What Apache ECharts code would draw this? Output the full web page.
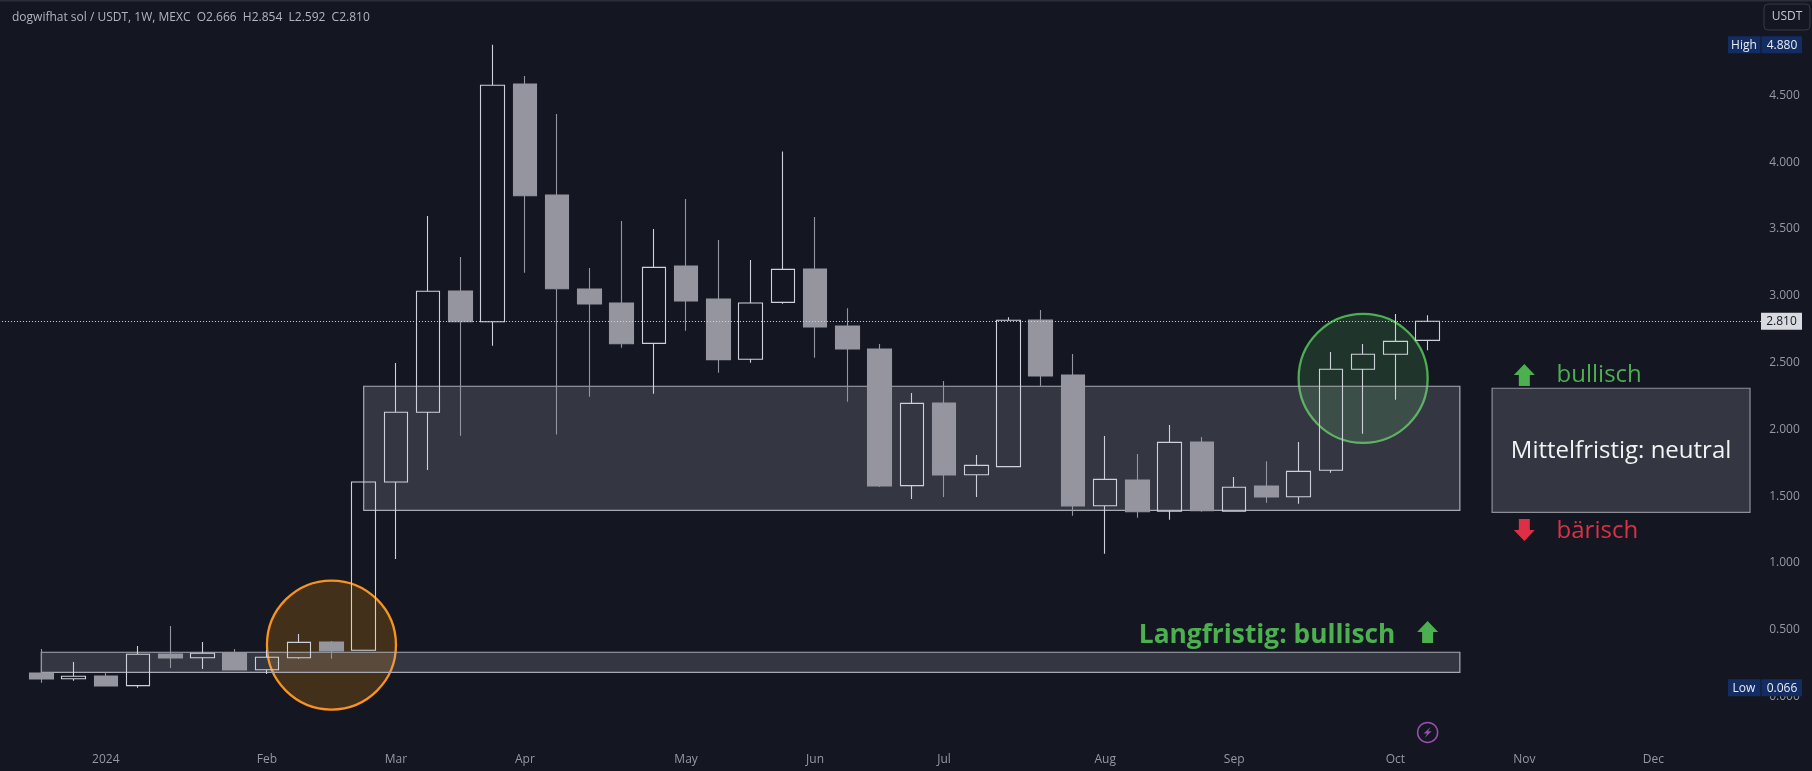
<!DOCTYPE html>
<html><head><meta charset="utf-8">
<style>html,body{margin:0;padding:0;background:#141722;overflow:hidden}#c{width:1812px;height:771px}</style>
<script src="https://cdn.jsdelivr.net/npm/echarts@6/dist/echarts.min.js"></script>
</head><body><div id="c"></div>
<script>
const weeks = ['2023-12-11','2023-12-18','2023-12-25','2024-01-01','2024-01-08','2024-01-15','2024-01-22','2024-01-29','2024-02-05','2024-02-12','2024-02-19','2024-02-26','2024-03-04','2024-03-11','2024-03-18','2024-03-25','2024-04-01','2024-04-08','2024-04-15','2024-04-22','2024-04-29','2024-05-06','2024-05-13','2024-05-20','2024-05-27','2024-06-03','2024-06-10','2024-06-17','2024-06-24','2024-07-01','2024-07-08','2024-07-15','2024-07-22','2024-07-29','2024-08-05','2024-08-12','2024-08-19','2024-08-26','2024-09-02','2024-09-09','2024-09-16','2024-09-23','2024-09-30','2024-10-07','2024-10-14','2024-10-21','2024-10-28','2024-11-04','2024-11-11','2024-11-18','2024-11-25','2024-12-02','2024-12-09','2024-12-16','2024-12-23'];
const monthLabels = {'2024-01-01':'2024','2024-02-05':'Feb','2024-03-04':'Mar','2024-04-01':'Apr','2024-05-06':'May','2024-06-03':'Jun','2024-07-01':'Jul','2024-08-05':'Aug','2024-09-02':'Sep','2024-10-07':'Oct','2024-11-04':'Nov','2024-12-02':'Dec'};
const priceTicks = [0,0.5,1,1.5,2,2.5,3,3.5,4,4.5];
const opens  = [0.177,0.134,0.154,0.082,0.319,0.291,0.329,0.201,0.291,0.409,0.347,1.606,2.128,3.036,2.806,4.585,3.754,3.051,2.946,2.644,3.223,2.976,2.525,2.951,3.201,2.774,2.602,1.579,2.198,1.661,1.721,2.819,2.407,1.429,1.621,1.387,1.906,1.387,1.576,1.496,1.694,2.450,2.562,2.666];
const closes = [0.132,0.152,0.079,0.317,0.289,0.324,0.199,0.294,0.406,0.341,1.606,2.128,3.034,2.806,4.576,3.749,3.053,2.939,2.641,3.213,2.961,2.522,2.946,3.198,2.766,2.602,1.576,2.195,1.659,1.731,2.817,2.400,1.427,1.626,1.384,1.903,1.391,1.567,1.494,1.686,2.450,2.562,2.659,2.810];
const lows   = [0.104,0.119,0.079,0.066,0.214,0.207,0.199,0.169,0.284,0.284,0.347,1.030,1.696,1.953,2.626,3.173,1.962,2.245,2.612,2.267,2.739,2.424,2.499,2.941,2.537,2.207,1.569,1.479,1.494,1.494,1.721,2.325,1.354,1.070,1.339,1.324,1.384,1.387,1.451,1.444,1.676,1.968,2.222,2.592];
const highs  = [0.356,0.259,0.182,0.379,0.528,0.409,0.356,0.349,0.469,0.416,1.610,2.497,3.597,3.290,4.880,4.645,4.361,3.208,3.560,3.500,3.725,3.418,3.268,4.081,3.590,2.906,2.639,2.272,2.362,1.808,2.839,2.894,2.564,1.951,1.816,2.033,1.943,1.644,1.761,1.906,2.579,2.639,2.864,2.854];
const zones = [[10,44,2.323,1.394],[0,44,0.332,0.182]];
const panel = [[45,53,2.308,1.379]];
const orangeCircle = [[9,0.386]];
const greenCircle = [[41,2.382]];
const upArrows = [[46,2.407],[43,0.484]];
const downArrows = [[46,1.247]];
const lastClose = 2.81, highPrice = 4.88, lowPrice = 0.066;
const notes = [
 {t:'Mittelfristig: neutral', i:48.97, p:1.84},
 {t:'bullisch', i:47.06, p:2.405},
 {t:'bärisch', i:47.06, p:1.237},
 {t:'Langfristig: bullisch', i:42.07, p:0.46}
];
const symbolLine = 'dogwifhat sol / USDT, 1W, MEXC  O2.666  H2.854  L2.592  C2.810';

const FONT = '"Open Sans","DejaVu Sans",sans-serif';
const BG = '#141722';
const LEAD = 1; // one empty week to the left of the first candle
const candleData = [['-','-','-','-']].concat(opens.map((o,i)=>[o,closes[i],lows[i],highs[i]]));

function custom(name,z,data,render){
  return {type:'custom',name,z,silent:true,animation:false,clip:false,
    data:data.map((d,i)=>[i,0]),encode:{x:-1,y:-1},renderItem:render};
}
const rectSeries=(name,z,list,fill,stroke)=>custom(name,z,list,(params,api)=>{
  const d=list[params.dataIndex];
  const a=api.coord([d[0]+LEAD,d[2]]), b=api.coord([d[1]+LEAD,d[3]]);
  return {type:'rect',shape:{x:a[0],y:a[1],width:b[0]-a[0],height:b[1]-a[1]},
    style:{fill,stroke,lineWidth:1.2}};
});
const circleSeries=(name,list,fill,stroke)=>custom(name,1,list,(params,api)=>{
  const d=list[params.dataIndex];
  const c=api.coord([d[0]+LEAD,d[1]]);
  return {type:'circle',shape:{cx:c[0],cy:c[1],r:64.5},style:{fill,stroke,lineWidth:2.3}};
});
const arrowSeries=(name,list,color,dir)=>custom(name,5,list,(params,api)=>{
  const d=list[params.dataIndex];
  const c=api.coord([d[0]+LEAD,d[1]]);
  const s=dir, pts=[[0,-11],[10.5,0],[5.5,0],[5.5,11],[-5.5,11],[-5.5,0],[-10.5,0]]
    .map(p=>[c[0]+p[0],c[1]+p[1]*s]);
  return {type:'polygon',shape:{points:pts},style:{fill:color}};
});
const notesStyle=[
 {font:'500 24px '+FONT,fill:'#f2f3f5',align:'center'},
 {font:'24px '+FONT,fill:'#4caf50',align:'left'},
 {font:'24px '+FONT,fill:'#dd3045',align:'left'},
 {font:'bold 26.3px '+FONT,fill:'#4caf50',align:'right'}
];
const noteSeries=custom('notes',6,notes,(params,api)=>{
  const n=notes[params.dataIndex], st=notesStyle[params.dataIndex];
  const c=api.coord([n.i+LEAD,n.p]);
  return {type:'text',style:{text:n.t,x:c[0],y:c[1],font:st.font,fill:st.fill,align:st.align,verticalAlign:'middle'}};
});
const badges=[
 {left:'High',price:highPrice,text:'4.880'},
 {left:'Low',price:lowPrice,text:'0.066'}
];
const badgeSeries=custom('extremes',20,badges,(params,api)=>{
  const b=badges[params.dataIndex];
  const y=api.coord([0,b.price])[1];
  const font='12px '+FONT;
  return {type:'group',children:[
    {type:'rect',shape:{x:1728,y:y-8.5,width:32.5,height:17},style:{fill:'#132d62'}},
    {type:'rect',shape:{x:1761.5,y:y-8.5,width:40.5,height:17},style:{fill:'#132d62'}},
    {type:'text',style:{text:b.left,x:1744,y:y+0.5,font,fill:'#e8ecf5',align:'center',verticalAlign:'middle'}},
    {type:'text',style:{text:b.text,x:1782,y:y+0.5,font,fill:'#e8ecf5',align:'center',verticalAlign:'middle'}}
  ]};
});
const lastSeries=custom('last',20,[lastClose],(params,api)=>{
  const y=api.coord([0,lastClose])[1];
  return {type:'group',children:[
    {type:'rect',shape:{x:1761,y:y-8.5,width:41,height:17},style:{fill:'#d8dae0'}},
    {type:'text',style:{text:lastClose.toFixed(3),x:1781.5,y:y+0.5,font:'12px '+FONT,fill:BG,align:'center',verticalAlign:'middle'}}
  ]};
});
const boltMark=[[43,-0.268]];
const boltSeries=custom('bolt',5,boltMark,(params,api)=>{
  const d=boltMark[params.dataIndex];
  const c=api.coord([d[0]+LEAD,d[1]]);
  const pts=[[3,-5.5],[-4,1],[-0.5,1],[-3,5.5],[4,-1.2],[0.5,-1.2]].map(p=>[c[0]+p[0],c[1]+p[1]]);
  return {type:'group',children:[
    {type:'circle',shape:{cx:c[0],cy:c[1],r:10},style:{fill:'none',stroke:'#9a4db0',lineWidth:1.5}},
    {type:'polygon',shape:{points:pts},style:{fill:'#9a4db0'}}
  ]};
});

const chart=echarts.init(document.getElementById('c'),null,{renderer:'canvas'});
chart.setOption({
  animation:false,
  backgroundColor:BG,
  title:{text:symbolLine,left:7,top:7,textStyle:{color:'#b2b5be',fontSize:12,fontWeight:'normal',fontFamily:FONT}},
  grid:{left:-7.06,top:1.88,width:1773.2,height:748.16,containLabel:false,outerBoundsMode:'none'},
  xAxis:{type:'category',data:weeks,boundaryGap:true,
    axisLine:{show:false},axisTick:{show:false},splitLine:{show:false},
    axisLabel:{color:'#9598a1',fontSize:12,fontFamily:FONT,margin:4,hideOverlap:false,
      interval:(i,v)=>v in monthLabels,
      formatter:v=>monthLabels[v]||''}},
  yAxis:{type:'value',position:'right',min:-0.4,max:5.2,scale:false,
    axisLine:{show:false},axisTick:{show:false},splitLine:{show:false},
    axisLabel:{color:'#9598a1',fontSize:12,fontFamily:FONT,margin:3,padding:[2,0,0,0],showMinLabel:true,showMaxLabel:true,
      customValues:priceTicks,formatter:v=>v.toFixed(3)}},
  series:[
    circleSeries('Long-term support',orangeCircle,'rgba(255,152,0,0.2)','#f7931e'),
    circleSeries('Mid-term test',greenCircle,'rgba(76,175,80,0.2)','#4caf50'),
    rectSeries('Zones',2,zones,'rgba(178,181,190,0.2)','#a8aab3'),
    rectSeries('Panel',2,panel,'rgba(178,181,190,0.2)','#8d8f98'),
    {type:'candlestick',name:'WIF/USDT',z:3,data:candleData,barWidth:24,silent:true,
      itemStyle:{color:'rgba(0,0,0,0)',color0:'#94959e',borderColor:'#cfd1da',borderColor0:'#94959e',borderWidth:1.1},
      markLine:{silent:true,animation:false,symbol:'none',label:{show:false},
        lineStyle:{color:'#d1d4dc',type:[1,2],width:1},data:[{yAxis:lastClose}]}},
    arrowSeries('Up',upArrows,'#4caf50',1),
    arrowSeries('Down',downArrows,'#dd3045',-1),
    noteSeries,boltSeries,badgeSeries,lastSeries
  ],
  graphic:[
    {type:'rect',z:100,shape:{x:0,y:0,width:1812,height:1.5},style:{fill:'#2a2e39'}},
    {type:'rect',z:100,shape:{x:1764,y:4,width:46,height:26,r:4},style:{fill:BG,stroke:'#363a45',lineWidth:1}},
    {type:'text',z:101,style:{text:'USDT',x:1787,y:17,font:'12px '+FONT,fill:'#c4c7d0',align:'center',verticalAlign:'middle'}}
  ]
});
</script></body></html>
